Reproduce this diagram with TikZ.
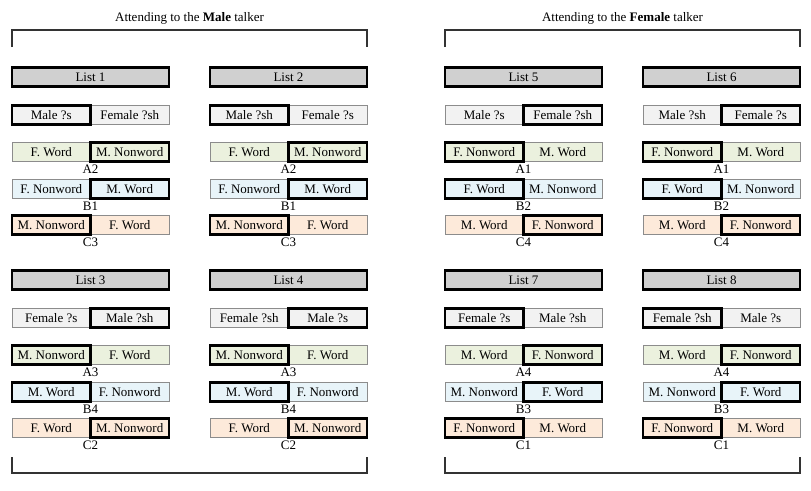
\documentclass[tikz,border=0pt]{standalone}
\usepackage{fontspec}
\setmainfont{Liberation Serif}
\usepackage{xcolor}
\usepackage{tikz}
\usetikzlibrary{positioning}

\definecolor{listgray}{HTML}{D0D0D0}
\definecolor{talkgray}{HTML}{F2F2F2}
\definecolor{rowa}{HTML}{EBF1DE}
\definecolor{rowb}{HTML}{E8F4F9}
\definecolor{rowc}{HTML}{FDEADA}
\definecolor{thinline}{HTML}{8C8C8C}

\tikzset{
  txt/.style={font=\fontsize{13pt}{15pt}\selectfont},
  cell/.style={txt, draw=thinline, line width=0.9pt,
    minimum width=78.5pt, minimum height=19pt, inner sep=0pt, outer sep=0pt},
  heavy/.style={draw=black, line width=2.4pt},
  listbar/.style={txt, draw=black, line width=2.4pt, fill=listgray,
    minimum width=157pt, minimum height=19pt, inner sep=0pt, outer sep=0pt},
  tag/.style={txt, inner sep=0pt},
  bracket/.style={draw=black!80, line width=1.2pt},
  head/.style={txt}
}

\newcommand{\cellpair}[7]{%
  \node[cell, fill=#4, anchor=east] (#1-l) at (#2,#3) {#6};
  \node[cell, fill=#4, anchor=west] (#1-r) at (#2,#3) {#7};
  \draw[heavy] (#1-#5.south west) rectangle (#1-#5.north east);
}
\newcommand{\rowpair}[8]{%
  \cellpair{#1}{#2}{#3}{#4}{#5}{#6}{#7}
  \node[tag, below=3.5pt of #1-l.south east] (#1-tag) {#8};
}

\begin{document}
\begin{tikzpicture}[x=1pt, y=-1pt]

\useasboundingbox (0,0) rectangle (811,490);

\node[head] (malehead) at (189.5,18) {Attending to the \textbf{Male} talker};
\node[head] (femalehead) at (622.5,18) {Attending to the \textbf{Female} talker};

\node[listbar] (list1) at (90.5,77) {List 1};
\cellpair{l1t}{90.5}{115}{talkgray}{l}{Male ?s}{Female ?sh}
\rowpair{l1a}{90.5}{152}{rowa}{r}{F. Word}{M. Nonword}{A2}
\rowpair{l1b}{90.5}{189}{rowb}{r}{F. Nonword}{M. Word}{B1}
\rowpair{l1c}{90.5}{225}{rowc}{l}{M. Nonword}{F. Word}{C3}

\node[listbar] (list2) at (288.5,77) {List 2};
\cellpair{l2t}{288.5}{115}{talkgray}{l}{Male ?sh}{Female ?s}
\rowpair{l2a}{288.5}{152}{rowa}{r}{F. Word}{M. Nonword}{A2}
\rowpair{l2b}{288.5}{189}{rowb}{r}{F. Nonword}{M. Word}{B1}
\rowpair{l2c}{288.5}{225}{rowc}{l}{M. Nonword}{F. Word}{C3}

\node[listbar] (list5) at (523.5,77) {List 5};
\cellpair{l5t}{523.5}{115}{talkgray}{r}{Male ?s}{Female ?sh}
\rowpair{l5a}{523.5}{152}{rowa}{l}{F. Nonword}{M. Word}{A1}
\rowpair{l5b}{523.5}{189}{rowb}{l}{F. Word}{M. Nonword}{B2}
\rowpair{l5c}{523.5}{225}{rowc}{r}{M. Word}{F. Nonword}{C4}

\node[listbar] (list6) at (721.5,77) {List 6};
\cellpair{l6t}{721.5}{115}{talkgray}{r}{Male ?sh}{Female ?s}
\rowpair{l6a}{721.5}{152}{rowa}{l}{F. Nonword}{M. Word}{A1}
\rowpair{l6b}{721.5}{189}{rowb}{l}{F. Word}{M. Nonword}{B2}
\rowpair{l6c}{721.5}{225}{rowc}{r}{M. Word}{F. Nonword}{C4}

\node[listbar] (list3) at (90.5,280) {List 3};
\cellpair{l3t}{90.5}{318}{talkgray}{r}{Female ?s}{Male ?sh}
\rowpair{l3a}{90.5}{355}{rowa}{l}{M. Nonword}{F. Word}{A3}
\rowpair{l3b}{90.5}{392}{rowb}{l}{M. Word}{F. Nonword}{B4}
\rowpair{l3c}{90.5}{428}{rowc}{r}{F. Word}{M. Nonword}{C2}

\node[listbar] (list4) at (288.5,280) {List 4};
\cellpair{l4t}{288.5}{318}{talkgray}{r}{Female ?sh}{Male ?s}
\rowpair{l4a}{288.5}{355}{rowa}{l}{M. Nonword}{F. Word}{A3}
\rowpair{l4b}{288.5}{392}{rowb}{l}{M. Word}{F. Nonword}{B4}
\rowpair{l4c}{288.5}{428}{rowc}{r}{F. Word}{M. Nonword}{C2}

\node[listbar] (list7) at (523.5,280) {List 7};
\cellpair{l7t}{523.5}{318}{talkgray}{l}{Female ?s}{Male ?sh}
\rowpair{l7a}{523.5}{355}{rowa}{r}{M. Word}{F. Nonword}{A4}
\rowpair{l7b}{523.5}{392}{rowb}{r}{M. Nonword}{F. Word}{B3}
\rowpair{l7c}{523.5}{428}{rowc}{l}{F. Nonword}{M. Word}{C1}

\node[listbar] (list8) at (721.5,280) {List 8};
\cellpair{l8t}{721.5}{318}{talkgray}{l}{Female ?sh}{Male ?s}
\rowpair{l8a}{721.5}{355}{rowa}{r}{M. Word}{F. Nonword}{A4}
\rowpair{l8b}{721.5}{392}{rowb}{r}{M. Nonword}{F. Word}{B3}
\rowpair{l8c}{721.5}{428}{rowc}{l}{F. Nonword}{M. Word}{C1}

\draw[bracket] (list1.west |- 0,47) -- (list1.west |- 0,30) -- (list2.east |- 0,30) -- (list2.east |- 0,47);
\draw[bracket] (list5.west |- 0,47) -- (list5.west |- 0,30) -- (list6.east |- 0,30) -- (list6.east |- 0,47);
\draw[bracket] (list3.west |- 0,457) -- (list3.west |- 0,473) -- (list4.east |- 0,473) -- (list4.east |- 0,457);
\draw[bracket] (list7.west |- 0,457) -- (list7.west |- 0,473) -- (list8.east |- 0,473) -- (list8.east |- 0,457);

\end{tikzpicture}
\end{document}
